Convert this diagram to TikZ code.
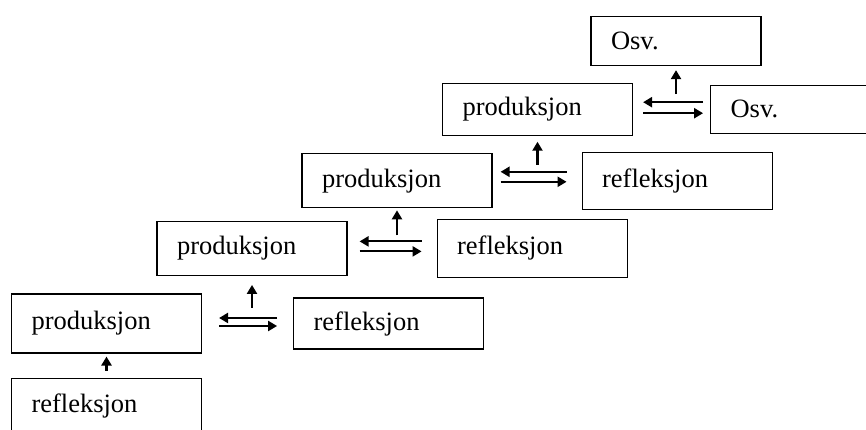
\documentclass[tikz,border=0pt]{standalone}
\usepackage{fontspec}
\setmainfont{Liberation Serif}
\usepackage{tikz}
\usetikzlibrary{positioning,arrows.meta}

\begin{document}
\begin{tikzpicture}[x=1pt, y=1pt]
    \tikzstyle{phase} = [rectangle, draw=black, line width=1.1pt, minimum height=54pt, text width=150pt, inner xsep=20pt, align=left, font=\fontsize{26.5}{30}\selectfont]
    \tikzstyle{flow} = [line width=2.2pt, -{Triangle[length=9pt, width=10pt]}]

    \useasboundingbox (0,0) rectangle (866,430);
    \clip (0,0) rectangle (866,430);

    \node [phase, minimum height=59pt] (prod1) at (106.5,106.5) {produksjon};
    \node [phase, below=24pt of prod1, minimum height=56pt] (refl0) {refleksjon};
    \node [phase, right=91pt of prod1, minimum height=51pt] (refl1) {refleksjon};
    \node [phase, above=17.5pt of prod1, xshift=145.5pt] (prod2) {produksjon};
    \node [phase, right=89pt of prod2, minimum height=58pt] (refl2) {refleksjon};
    \node [phase, above=12.5pt of prod2, xshift=145pt] (prod3) {produksjon};
    \node [phase, right=89pt of prod3, minimum height=57pt] (refl3) {refleksjon};
    \node [phase, above=17.5pt of prod3, xshift=140.5pt, minimum height=52pt] (prod4) {produksjon};
    \node [phase, right=77pt of prod4, minimum height=48pt] (osvright) {Osv.};
    \node [phase, above=16.5pt of prod4, xshift=138.5pt, text width=130pt, minimum height=49pt] (osvtop) {Osv.};

    % reflection feeds production
    \draw [flow, shorten <=7pt, shorten >=3pt] (refl0) -- (prod1);

    % back and forth
    \draw [flow, shorten <=16pt, shorten >=17pt] ([yshift=5.5pt]prod1.east -| refl1.west) -- ([yshift=5.5pt]prod1.east);
    \draw [flow, shorten <=17pt, shorten >=16pt] ([yshift=-2.5pt]prod1.east) -- ([yshift=-2.5pt]prod1.east -| refl1.west);
    \draw [flow, shorten <=15pt, shorten >=12pt] ([yshift=7pt]prod2.east -| refl2.west) -- ([yshift=7pt]prod2.east);
    \draw [flow, shorten <=12pt, shorten >=15pt] ([yshift=-3pt]prod2.east) -- ([yshift=-3pt]prod2.east -| refl2.west);
    \draw [flow, shorten <=15pt, shorten >=8pt] ([yshift=9pt]prod3.east -| refl3.west) -- ([yshift=9pt]prod3.east);
    \draw [flow, shorten <=8pt, shorten >=15pt] ([yshift=-1pt]prod3.east) -- ([yshift=-1pt]prod3.east -| refl3.west);
    \draw [flow, shorten <=7pt, shorten >=10pt] ([yshift=7pt]prod4.east -| osvright.west) -- ([yshift=7pt]prod4.east);
    \draw [flow, shorten <=10pt, shorten >=7pt] ([yshift=-4pt]prod4.east) -- ([yshift=-4pt]prod4.east -| osvright.west);

    % next level
    \draw [flow] ([yshift=-32pt]prod2.south) -- ([yshift=-9pt]prod2.south);
    \draw [flow] ([yshift=-27pt]prod3.south) -- ([yshift=-2pt]prod3.south);
    \draw [flow] ([yshift=-29pt]prod4.south) -- ([yshift=-6pt]prod4.south);
    \draw [flow] ([yshift=-28pt]osvtop.south) -- ([yshift=-4pt]osvtop.south);
\end{tikzpicture}
\end{document}
